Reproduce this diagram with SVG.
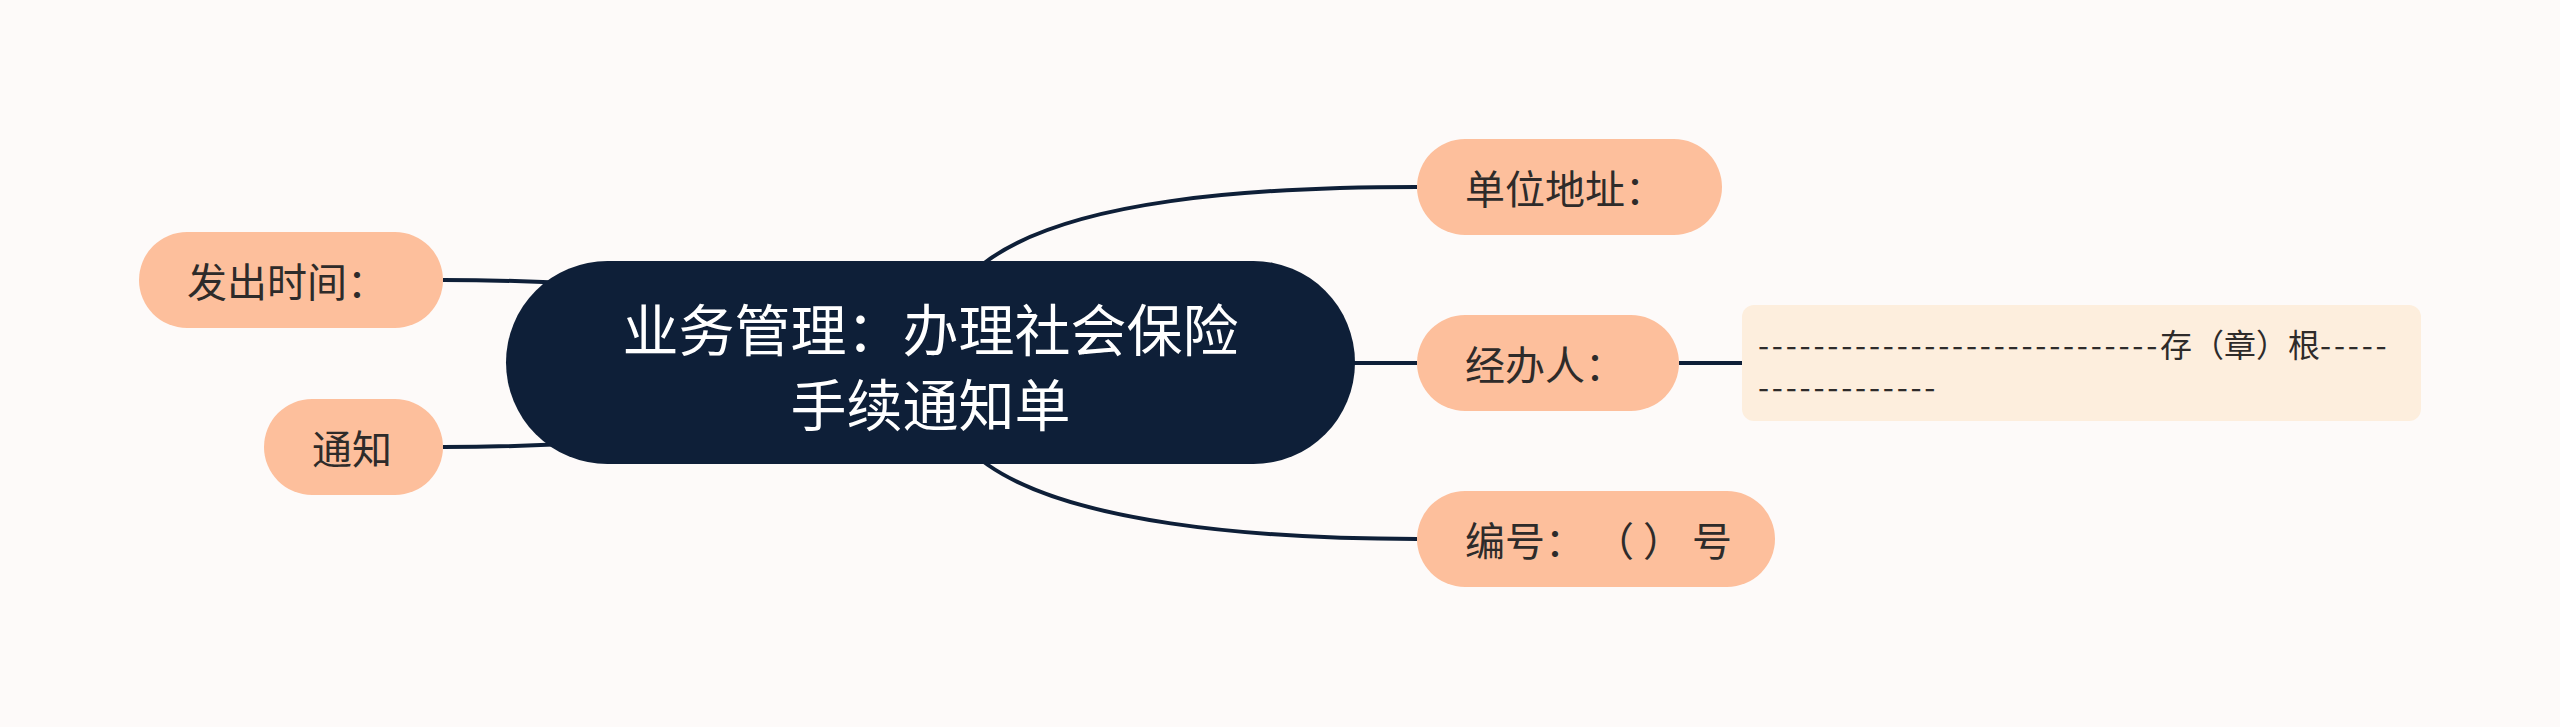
<svg xmlns="http://www.w3.org/2000/svg" width="2560" height="727" viewBox="0 0 2560 727">
<style>
.bg{fill:#fdfaf9}
.conn{fill:none;stroke:#0e1f38;stroke-width:4;stroke-linecap:butt}
.sub{fill:#fdbf9c}
.root{fill:#0e1f38}
.note{fill:#fdeedd}
.lbl{font-family:"Noto Sans CJK SC","Noto Sans",sans-serif;font-size:40px;fill:#2e2b2a;dominant-baseline:central}
.rlbl{font-family:"Noto Sans CJK SC","Noto Sans",sans-serif;font-size:56px;fill:#ffffff;dominant-baseline:central;text-anchor:middle}
.ntxt{font-family:"Noto Sans CJK SC","Noto Sans",sans-serif;font-size:32px;fill:#2e2b2a;dominant-baseline:central}
.dash{letter-spacing:2.76px}
.cjk{letter-spacing:0}
</style>
<rect class="bg" x="0" y="0" width="2560" height="727"/>
<g id="connectors">
<path class="conn" d="M 954 285 L 987 261 C 1070 200, 1250 187, 1417 187"/>
<path class="conn" d="M 955 441 L 988 465 C 1070 522, 1250 539, 1417 539"/>
<path class="conn" d="M 1300 363 L 1417 363"/>
<path class="conn" d="M 1679 363 L 1742 363"/>
<path class="conn" d="M 443 280 C 510 280, 560 282, 620 286"/>
<path class="conn" d="M 443 447 C 510 447, 560 445, 620 441"/>
</g>
<g id="root">
<rect class="root" x="506" y="261" width="849" height="203" rx="101.5"/>
<text class="rlbl" x="930.5" y="326">业务管理：办理社会保险</text>
<text class="rlbl" x="930.5" y="401">手续通知单</text>
</g>
<g id="node-fachu">
<rect class="sub" x="139" y="232" width="304" height="96" rx="48"/>
<text class="lbl" x="187" y="280">发出时间：</text>
</g>
<g id="node-tongzhi">
<rect class="sub" x="264" y="399" width="179" height="96" rx="48"/>
<text class="lbl" x="312" y="447">通知</text>
</g>
<g id="node-danwei">
<rect class="sub" x="1417" y="139" width="305" height="96" rx="48"/>
<text class="lbl" x="1465" y="187">单位地址：</text>
</g>
<g id="node-jingban">
<rect class="sub" x="1417" y="315" width="262" height="96" rx="48"/>
<text class="lbl" x="1465" y="363">经办人：</text>
</g>
<g id="node-bianhao">
<rect class="sub" x="1417" y="491" width="358" height="96" rx="48"/>
<text class="lbl" x="1465" y="539">编号： （ ） 号</text>
</g>
<g id="note-jingban">
<rect class="note" x="1742" y="305" width="679" height="116" rx="12"/>
<text class="ntxt"><tspan class="dash" x="1758" y="343">-----------------------------</tspan><tspan class="cjk">存（章）根</tspan><tspan class="dash">-----</tspan><tspan class="dash" x="1758" y="385">-------------</tspan></text>
</g>
</svg>
